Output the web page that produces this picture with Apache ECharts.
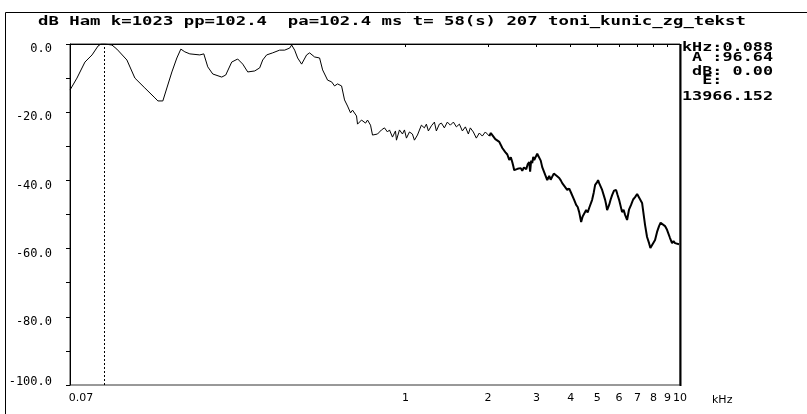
<!DOCTYPE html>
<html>
<head>
<meta charset="utf-8">
<script src="https://cdn.jsdelivr.net/npm/echarts@6/dist/echarts.min.js"></script>
<style>
html,body{margin:0;padding:0;background:#fff;}
#chart{width:807px;height:414px;}
</style>
</head>
<body>
<div id="chart"></div>
<script>
// ---- data (kHz, dB) ----
const lowFreq = [0.0600,0.0636,0.0680,0.0722,0.0759,0.0778,0.0804,0.0853,0.0889,0.0967,0.1034,0.1124,0.1223,0.1254,0.1307,0.1352,0.1410,0.1470,0.1520,0.1572,0.1639,0.1782,0.1843,0.1905,0.1987,0.2142,0.2215,0.2329,0.2449,0.2555,0.2664,0.2825,0.2945,0.3020,0.3122,0.3283,0.3481,0.3631,0.3787,0.3851,0.3949,0.4049,0.4186,0.4365,0.4476,0.4667,0.4867,0.4992,0.5205,0.5382,0.5518,0.5658,0.5852,0.6000,0.6153,0.6310,0.6416,0.6634,0.6690,0.6918,0.7154,0.7276,0.7461,0.7586,0.7911,0.8177,0.8387,0.8602,0.8746,0.8969,0.9197,0.9274,0.9510,0.9752,0.9917,1.0084,1.034,1.060,1.078,1.106,1.124,1.143,1.172,1.192,1.212,1.243,1.275,1.296,1.329,1.352,1.386,1.421,1.457,1.495,1.533,1.572,1.612,1.653,1.695,1.723,1.767,1.812,1.858,1.905,1.954,2.021];
const lowDb = [-13.5,-10.0,-5.3,-3.2,-0.6,0,0,-0.3,-1.5,-4.7,-10.0,-12.9,-15.8,-16.7,-16.7,-12.9,-8.2,-4.1,-1.5,-2.3,-2.9,-3.2,-2.9,-6.7,-8.8,-9.7,-9.1,-5.3,-4.4,-5.9,-8.2,-7.9,-7.0,-4.7,-3.2,-2.6,-1.8,-1.8,-1.2,-0.3,-1.8,-4.1,-5.9,-3.2,-2.6,-3.8,-4.1,-7.6,-10.6,-11.1,-12.3,-11.7,-12.3,-16.4,-18.2,-20.2,-19.4,-21.1,-23.5,-22.3,-23.2,-22.3,-23.8,-26.7,-26.4,-25.2,-24.6,-25.8,-25.2,-27.3,-25.5,-28.2,-25.2,-26.4,-25.2,-27.6,-25.8,-26.4,-28.2,-26.7,-27.0,-23.8,-24.6,-23.5,-25.5,-24.0,-22.9,-25.5,-23.5,-23.2,-24.6,-22.9,-23.8,-22.9,-24.3,-23.5,-25.5,-24.3,-26.4,-24.6,-25.8,-27.6,-26.1,-27.0,-25.8,-27.0];
const highFreq = [2.021,2.046,2.072,2.098,2.125,2.160,2.197,2.225,2.253,2.280,2.310,2.350,2.388,2.420,2.449,2.470,2.490,2.532,2.560,2.597,2.630,2.663,2.700,2.754,2.790,2.824,2.845,2.870,2.896,2.921,2.945,2.970,3.020,3.071,3.110,3.149,3.229,3.284,3.340,3.380,3.425,3.470,3.512,3.570,3.631,3.680,3.724,3.786,3.882,3.950,4.014,4.116,4.186,4.240,4.293,4.365,4.420,4.476,4.552,4.610,4.668,4.786,4.850,4.908,4.991,5.030,5.076,5.205,5.337,5.380,5.427,5.519,5.590,5.659,5.750,5.852,5.920,6.000,6.153,6.230,6.310,6.416,6.520,6.634,6.750,6.862,6.980,7.095,7.276,7.461,7.586,7.715,7.800,7.911,8.112,8.250,8.389,8.500,8.602,8.820,8.970,9.197,9.353,9.470,9.590,9.750,9.917];
const highDb = [-27.0,-26.1,-26.7,-26.2,-27.9,-27.4,-28.7,-29.6,-30.5,-30.0,-31.7,-32.4,-34.0,-33.2,-34.6,-35.8,-37.0,-37.5,-36.6,-37.0,-36.4,-37.2,-36.2,-36.7,-35.2,-34.6,-37.4,-34.2,-34.9,-33.1,-34.0,-33.4,-32.2,-32.6,-34.2,-36.1,-38.4,-39.9,-38.7,-39.8,-39.3,-38.0,-38.4,-38.8,-39.3,-40.0,-40.8,-41.3,-42.8,-42.4,-43.7,-45.7,-47.2,-47.8,-49.3,-52.2,-50.6,-51.0,-48.7,-49.4,-48.1,-45.7,-43.6,-41.3,-40.5,-39.9,-40.8,-42.8,-45.7,-47.0,-48.7,-47.2,-45.6,-44.3,-43.0,-42.8,-44.2,-45.7,-49.3,-48.6,-50.1,-51.6,-48.6,-47.2,-45.6,-44.9,-44.0,-44.3,-46.6,-53.1,-56.6,-58.4,-59.8,-59.5,-57.5,-55.1,-53.4,-52.4,-52.2,-53.4,-54.5,-56.9,-58.4,-57.8,-58.4,-58.0,-58.7];
const cursorFreq = 0.0778;
const xTickValues = [0.06,1,2,3,4,5,6,7,8,9,10];
const xTickLabels = ['0.07','1','2','3','4','5','6','7','8','9','10'];
const yLabelValues = [0,-20,-40,-60,-80,-100];
const xUnit = 'kHz';
const titleText = 'dB Ham k=1023 pp=102.4  pa=102.4 ms t= 58(s) 207 toni_kunic_zg_tekst';
const readoutLines = ['kHz:0.088', ' A :96.64', ' dB: 0.00', '  E:', '13966.152'];
const readoutY = [48, 57.5, 72, 81, 96.5];

const zip = (a, b) => a.map((v, i) => [v, b[i]]);

const chart = echarts.init(document.getElementById('chart'), null, {renderer: 'canvas'});
const graphics = [
  {type: 'rect', shape: {x: 5.5, y: 12.5, width: 900, height: 500}, style: {fill: 'none', stroke: '#000', lineWidth: 1}, silent: true},
  {type: 'text', x: 38, y: 22, scaleX: 1.33, style: {text: titleText, font: 'bold 13px "DejaVu Sans Mono"', fill: '#000', textVerticalAlign: 'middle'}},
  {type: 'line', shape: {x1: 680.5, y1: 44, x2: 680.5, y2: 386}, style: {stroke: '#000', lineWidth: 2}, silent: true},
  {type: 'text', x: 712, y: 400, style: {text: xUnit, font: '11px "DejaVu Sans"', fill: '#000', textVerticalAlign: 'middle'}}
];
readoutLines.forEach((t, i) => {
  graphics.push({type: 'text', x: 682, y: readoutY[i], scaleX: 1.4, style: {text: t, font: 'bold 12px "DejaVu Sans Mono"', fill: '#000', textVerticalAlign: 'middle'}});
});

chart.setOption({
  animation: false,
  backgroundColor: '#fff',
  grid: {left: 70, top: 44, width: 610, height: 341, show: true, borderColor: '#333', borderWidth: 1, backgroundColor: 'transparent'},
  xAxis: {
    type: 'log', logBase: 10, min: 0.06, max: 10,
    axisLine: {lineStyle: {color: '#000', width: 1}},
    axisTick: {show: true, length: 3, customValues: xTickValues, lineStyle: {color: '#000'}},
    minorTick: {show: false},
    splitLine: {show: false},
    axisLabel: {
      customValues: xTickValues, margin: 8, color: '#000', fontFamily: 'DejaVu Sans', fontSize: 11,
      formatter: v => {
        let idx = xTickValues.findIndex(t => Math.abs(t - v) < 1e-6);
        if (idx < 0) return '';
        return idx === 0 ? '{l|' + xTickLabels[idx] + '}' : xTickLabels[idx];
      },
      rich: {l: {padding: [0, 0, 0, 22], fontFamily: 'DejaVu Sans', fontSize: 11, color: '#000'}}
    }
  },
  yAxis: {
    type: 'value', min: -100, max: 0, interval: 10,
    axisLine: {show: true, lineStyle: {color: '#000', width: 1}},
    axisTick: {show: true, length: 4, lineStyle: {color: '#000'}},
    splitLine: {show: false},
    axisLabel: {
      customValues: yLabelValues, margin: 18, color: '#000', fontFamily: 'DejaVu Sans Mono', fontSize: 12,
      formatter: v => v === -100 ? '{b|' + v.toFixed(1) + '}' : '{a|' + v.toFixed(1) + '}',
      rich: {
        a: {padding: [10, 0, 0, 0], fontFamily: 'DejaVu Sans Mono', fontSize: 12, color: '#000'},
        b: {padding: [0, 0, 6, 0], fontFamily: 'DejaVu Sans Mono', fontSize: 12, color: '#000'}
      }
    }
  },
  series: [
    {
      type: 'line', data: zip(lowFreq, lowDb), showSymbol: false, symbol: 'none',
      lineStyle: {color: '#000', width: 1}, z: 3,
      markLine: {
        silent: true, symbol: 'none', label: {show: false},
        lineStyle: {color: '#000', width: 1, type: [2, 2]},
        data: [{xAxis: cursorFreq}]
      }
    },
    {
      type: 'line', data: zip(highFreq, highDb), showSymbol: false, symbol: 'none',
      lineStyle: {color: '#000', width: 2}, z: 3
    }
  ],
  graphic: graphics
});
</script>
</body>
</html>
